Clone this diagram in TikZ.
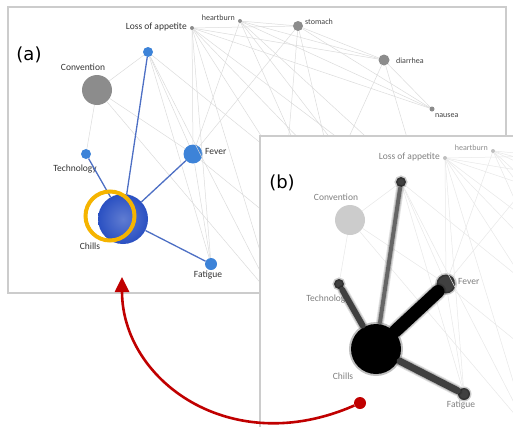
\documentclass[tikz,border=0pt]{standalone}
\usepackage{fontspec}
\setmainfont{Carlito}
\newfontfamily\panelfont{DejaVu Sans}
\usetikzlibrary{arrows.meta}

\definecolor{nodeblue}{HTML}{3D83D8}
\definecolor{hubblue}{HTML}{2A50C2}
\definecolor{edgeblue}{HTML}{4D6FC4}
\definecolor{ringgold}{HTML}{F5B400}
\definecolor{arrowred}{HTML}{C00000}

% the symptom network, #1 = prefix of the node names
\newcommand{\symnet}[1]{%
  \node[symnode, minimum size=4pt] (#1-loss) at (192,28) {};
  \node[lbl, anchor=east] (#1-loss-t) at (188,27) {Loss of appetite};
  \node[symnode, minimum size=4pt] (#1-heart) at (240,21) {};
  \node[symlbl, anchor=east] (#1-heart-t) at (236,18) {heartburn};
  \node[symnode, minimum size=10pt] (#1-stomach) at (298,26) {};
  \node[symnode, minimum size=11pt] (#1-diarrhea) at (384,60) {};
  \node[symnode, minimum size=5pt] (#1-nausea) at (432,109) {};
  \node[bluenode, minimum size=10pt] (#1-top) at (148,52) {};
  \node[convnode, minimum size=30pt] (#1-conv) at (97,90) {};
  \node[lbl] (#1-conv-t) at (83,67) {Convention};
  \node[bluenode, minimum size=10pt] (#1-tech) at (86,154) {};
  \node[lbl] (#1-tech-t) at (75,169) {Technology};
  \node[bluenode, minimum size=19pt] (#1-fever) at (193,154) {};
  \node[lbl, anchor=west] (#1-fever-t) at (204,151) {Fever};
  \node[hubnode, minimum size=50pt] (#1-chills) at (123,219) {};
  \node[lbl] (#1-chills-t) at (90,246) {Chills};
  \node[bluenode, minimum size=12pt] (#1-fatigue) at (211,264) {};
  \node[lbl] (#1-fatigue-t) at (208,275) {Fatigue};
  % symptoms lying under panel (b)
  \coordinate (#1-h1) at (275,300);
  \coordinate (#1-h2) at (455,300);
  \coordinate (#1-h3) at (360,290);
  \coordinate (#1-h4) at (500,260);
  \foreach \a/\b in {loss/stomach, loss/diarrhea, loss/nausea, loss/fever, loss/fatigue,
      loss/h1, loss/h2, loss/h3, loss/h4, heart/stomach, heart/diarrhea, heart/nausea,
      heart/h2, heart/h3, heart/h4, heart/fever, stomach/diarrhea, stomach/nausea,
      stomach/h1, stomach/h3, stomach/fever, diarrhea/nausea, diarrhea/h1, diarrhea/h2,
      top/conv, top/fever, top/fatigue, top/h1, top/h2, conv/tech, conv/fever, conv/h1,
      fever/fatigue, fever/h3}
    \draw[bgedge] (#1-\a) -- (#1-\b);
}

\begin{document}
\begin{tikzpicture}[x=1pt, y=-1pt,
  symnode/.style={circle, fill=black!45, inner sep=0pt},
  symlbl/.style={font=\fontsize{8}{9}\selectfont, text=black!75, inner sep=1pt},
  lbl/.style={font=\fontsize{9.5}{10}\selectfont, text=black!80, inner sep=1pt},
  bluenode/.style={circle, fill=nodeblue, inner sep=0pt},
  hubnode/.style={circle, inner color=hubblue!75!white, outer color=hubblue, inner sep=0pt},
  convnode/.style={circle, fill=black!45, inner sep=0pt},
  bgedge/.style={draw=black!14, line width=0.5pt},
  hubedge/.style={draw=edgeblue, line width=1.3pt},
  hot/.style={draw=black!85, line width=#1, line cap=round,
    preaction={draw=black, draw opacity=.12, line width=#1+4pt, line cap=round},
    preaction={draw=black, draw opacity=.15, line width=#1+2pt, line cap=round}},
  frame/.style={draw=black!20, line width=1.2pt},
  panellbl/.style={font=\panelfont\fontsize{18}{20}\selectfont, inner sep=0pt},
  reddot/.style={circle, fill=arrowred, minimum size=12pt, inner sep=0pt},
  redarrow/.style={draw=arrowred, line width=2.6pt, -{Triangle[width=14pt,length=15pt]}},
]
\useasboundingbox (0,0) rectangle (513,426);
\clip (0,0) rectangle (513,426);

% panel (a)
\draw[frame] (8,7) rectangle (506,293);
\node[panellbl] (lbl-a) at (29,55) {(a)};
\symnet{a}
\node[symlbl, anchor=west] (a-stomach-t) at (304,22) {stomach};
\node[symlbl, anchor=west] (a-diarrhea-t) at (395,61) {diarrhea};
\node[symlbl, anchor=west] (a-nausea-t) at (434,116) {nausea};
\foreach \n in {top, tech, fever, fatigue}
  \draw[hubedge] (a-chills) -- (a-\n);
\node[circle, draw=ringgold, line width=4pt, minimum size=49pt, inner sep=0pt] (ring) at (110,216) {};

% panel (b)
\fill[white] (260,136) rectangle (520,440);
\draw[frame] (260,440) -- (260,136) -- (520,136);
\node[panellbl] (lbl-b) at (282,183) {(b)};
\begin{scope}
  \clip (261,137) rectangle (513,426);
  \begin{scope}[shift={(253,130)},
    symnode/.style={circle, fill=black!25, inner sep=0pt},
    symlbl/.style={font=\fontsize{8}{9}\selectfont, text=black!45, inner sep=1pt},
    lbl/.style={font=\fontsize{9.5}{10}\selectfont, text=black!50, inner sep=1pt},
    bluenode/.style={circle, fill=black!75, draw=black, draw opacity=.2, line width=3pt, inner sep=0pt},
    hubnode/.style={circle, fill=black, draw=black, draw opacity=.25, line width=4pt, inner sep=0pt},
    convnode/.style={circle, fill=black!20, inner sep=0pt},
    bgedge/.style={draw=black!9, line width=0.5pt}]
    \symnet{b}
    \draw[hot=4pt, draw=black!60] (b-chills) -- (b-top);
    \draw[hot=6pt, draw=black!75] (b-chills) -- (b-tech);
    \draw[hot=13pt, draw=black] (b-chills) -- (b-fever);
    \draw[hot=7pt, draw=black!75] (b-chills) -- (b-fatigue);
  \end{scope}
\end{scope}

% from (b) back to (a)
\node[reddot] (src) at (360,403) {};
\coordinate (tgt) at (122,277);
\draw[redarrow] (src) .. controls (230,460) and (122,380) .. (tgt);
\end{tikzpicture}
\end{document}
